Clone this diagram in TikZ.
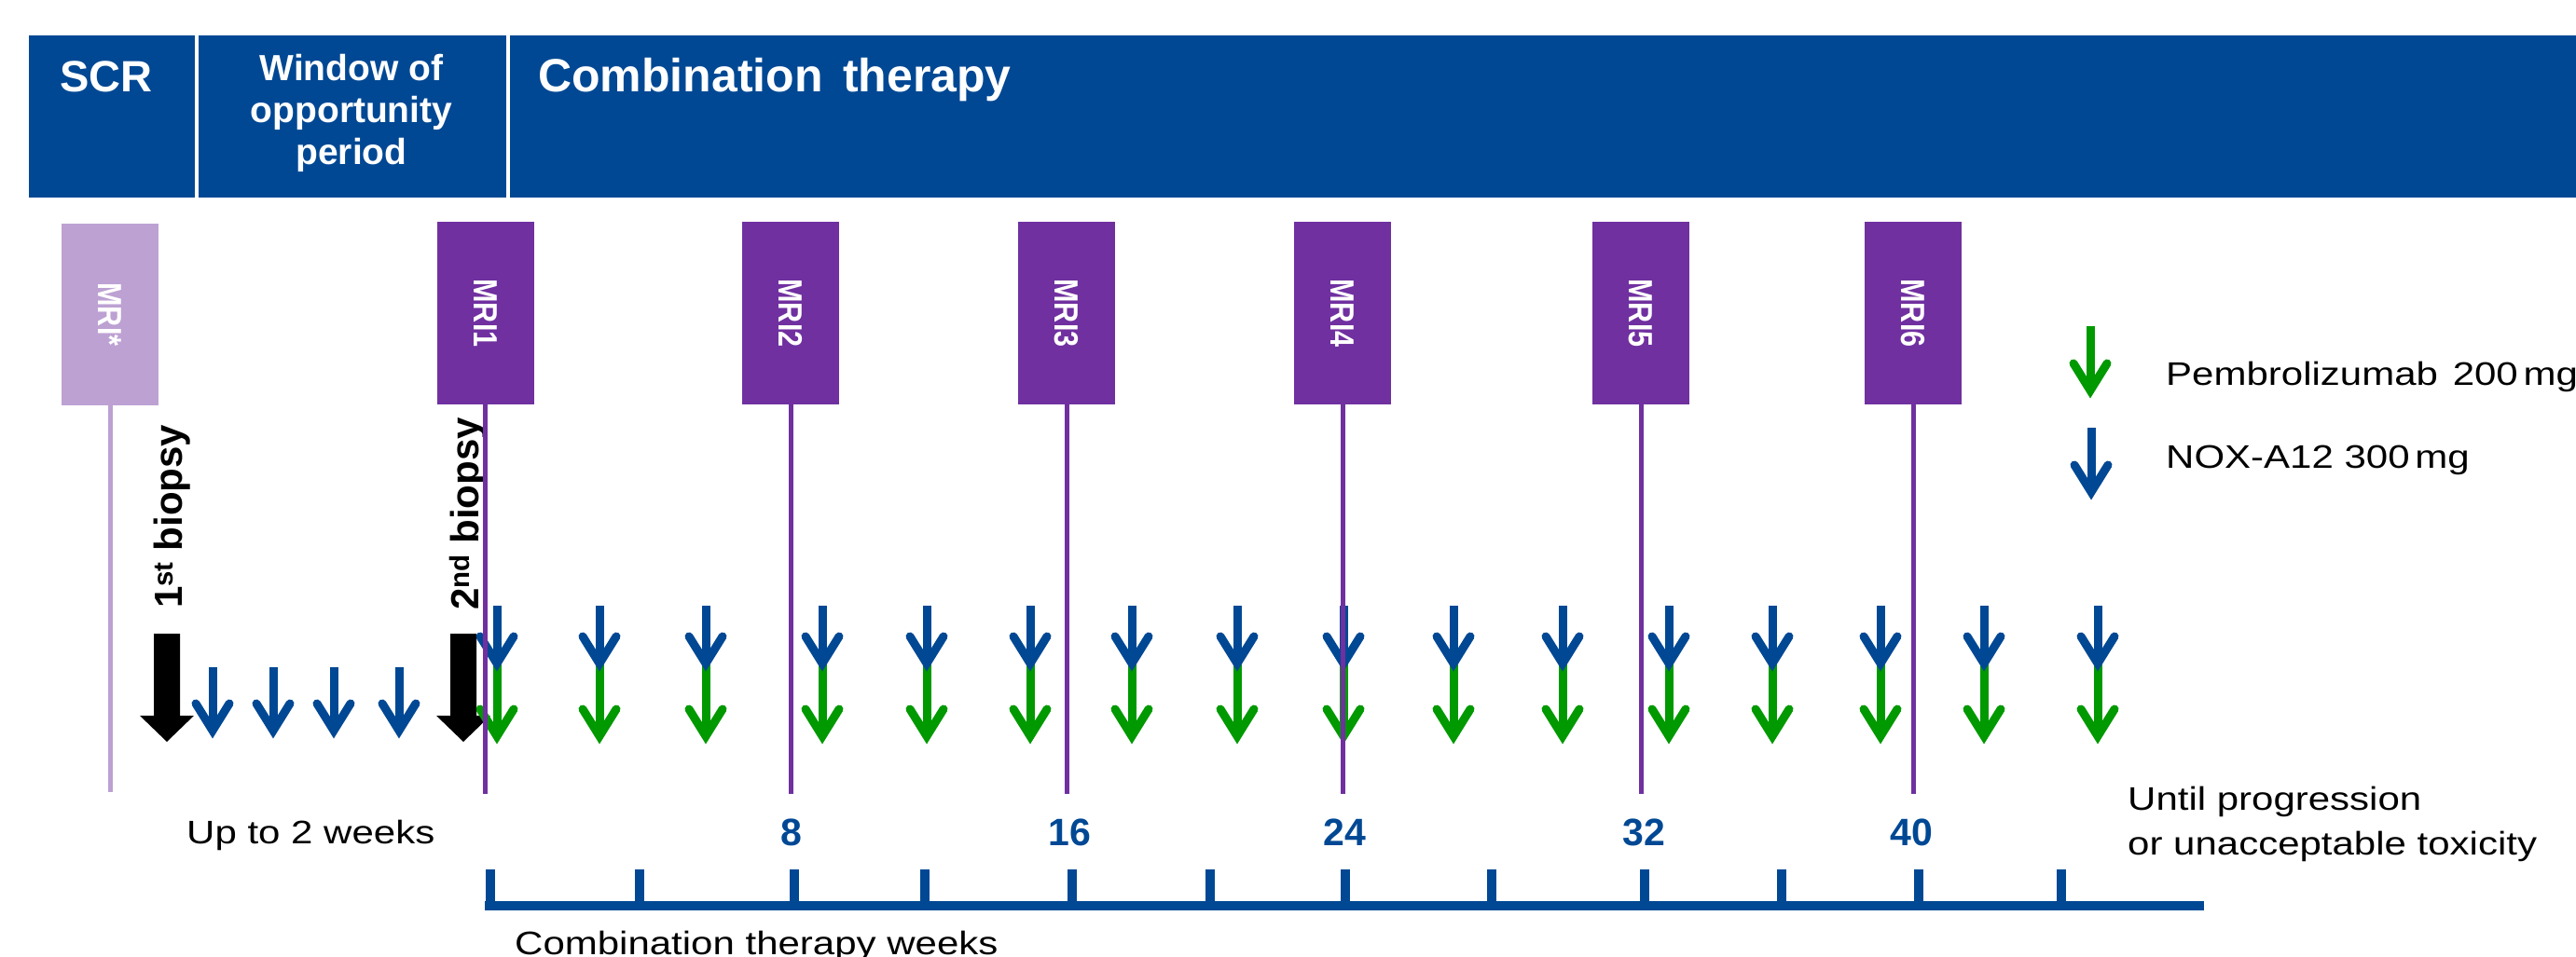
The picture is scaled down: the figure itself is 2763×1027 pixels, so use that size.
\documentclass[tikz,border=0pt]{standalone}
\usepackage{fontspec}
\setmainfont{Liberation Sans}
\newfontfamily\lowfont[FakeStretch=1.2]{Liberation Sans}
\newfontfamily\mrifont[FakeStretch=0.85]{Liberation Sans}
\definecolor{hdrblue}{RGB}{0,72,148}
\definecolor{mripurple}{RGB}{112,48,160}
\definecolor{mrilight}{RGB}{189,161,211}
\definecolor{dosegreen}{RGB}{0,153,0}
\definecolor{doseblue}{RGB}{0,72,148}
\newcommand\doseArrow[4]{%
  \draw[#4, line width=9pt, line cap=butt] (#1,#2) -- (#1,#3-10);
  \draw[#4, line width=9pt, line cap=round, line join=miter] (#1-18,#3-38) -- (#1,#3-9) -- (#1+18,#3-38);
}
\newcommand\bigArrow[1]{%
  \fill[black] (#1-14,680) -- (#1+14,680) -- (#1+14,768) -- (#1+29,768) -- (#1,796) -- (#1-29,768) -- (#1-14,768) -- cycle;
}
\tikzset{
  hdrbox/.style={fill=hdrblue, draw=none, inner sep=0pt, minimum height=174pt},
  hdrtxt/.style={text=white, inner sep=0pt},
  mribox/.style={fill=mripurple, draw=none, inner sep=0pt, minimum width=104pt, minimum height=195pt,
    text=white, font=\mrifont\bfseries\fontsize{36pt}{40pt}\selectfont},
  mrilightbox/.style={mribox, fill=mrilight},
  mriline/.style={draw=mripurple, line width=5pt},
  mrilightline/.style={draw=mrilight, line width=5pt},
  lowtext/.style={font=\lowfont\fontsize{35pt}{48pt}\selectfont, text=black, inner sep=0pt},
  wknum/.style={font=\bfseries\fontsize{41pt}{48pt}\selectfont, text=hdrblue, inner sep=0pt, anchor=base},
  biopsy/.style={font=\bfseries\fontsize{42pt}{48pt}\selectfont, rotate=90, anchor=base west, inner sep=0pt},
  axisbar/.style={draw=hdrblue, line width=10pt},
  axistick/.style={draw=hdrblue, line width=10pt}
}
\begin{document}
\begin{tikzpicture}[x=1pt,y=-1pt]
\useasboundingbox (0,0) rectangle (2763,1027);
\fill[white] (0,0) rectangle (2763,1027);

% header
\node[hdrbox, minimum width=178pt] (scr) at (120,125) {};
\node[hdrbox, minimum width=330pt] (win) at (378,125) {};
\node[hdrbox, minimum width=2216pt] (comb) at (1655,125) {};
\node[hdrtxt, font=\bfseries\fontsize{47pt}{56pt}\selectfont, anchor=base] (scrt) at (114,99) {SCR};
\node[hdrtxt, font=\bfseries\fontsize{39pt}{45pt}\selectfont, align=center, anchor=base] (wint) at (377,177) {Window of\\opportunity\\period};
\node[hdrtxt, font=\bfseries\fontsize{50pt}{56pt}\selectfont, anchor=base west] (combt) at (577,99) {Combination\hspace{0.15em} therapy};

% MRI boxes
\node[mrilightbox] (m0) at (118,337.5) {\rotatebox{-90}{MRI*}};
\node[mribox] (m1) at (520.5,336) {\rotatebox{-90}{MRI1}};
\node[mribox] (m2) at (848,336) {\rotatebox{-90}{MRI2}};
\node[mribox] (m3) at (1144,336) {\rotatebox{-90}{MRI3}};
\node[mribox] (m4) at (1440,336) {\rotatebox{-90}{MRI4}};
\node[mribox] (m5) at (1760,336) {\rotatebox{-90}{MRI5}};
\node[mribox] (m6) at (2052,336) {\rotatebox{-90}{MRI6}};
\coordinate (lbot) at (0,852);

% biopsy arrows
\bigArrow{179}
\bigArrow{497}

% window-period NOX-A12 arrows
\foreach \x in {228,293,358,428} {\doseArrow{\x}{716}{793}{doseblue}}

% combination arrows
\foreach \x in {533,643,757,882,994,1105,1214,1327,1441,1559,1676,1790,1901,2017,2128,2250} {
  \doseArrow{\x}{712}{799}{dosegreen}
  \doseArrow{\x}{650}{721}{doseblue}
}

% legend
\doseArrow{2242}{350}{428}{dosegreen}
\doseArrow{2243}{459}{537}{doseblue}
\node[lowtext, anchor=base west] (pem) at (2323,413) {Pembrolizumab\hspace{0.12em} 200\,mg};
\node[lowtext, anchor=base west] (nox) at (2323,502) {NOX-A12 300\,mg};

% biopsy labels
\node[biopsy] (b1) at (195,653) {1\textsuperscript{st} biopsy};
\node[biopsy] (b2) at (513,655) {2\textsuperscript{nd} biopsy};

% MRI lines
\draw[mrilightline] (m0.south) -- (m0.south |- 0,850);
\foreach \m in {m1,m2,m3,m4,m5,m6} {\draw[mriline] (\m.south) -- (\m.south |- lbot);}

% texts below
\node[lowtext, anchor=base west] (upto) at (200,905) {Up to 2 weeks};
\node[lowtext, anchor=base west, align=left] (until) at (2282,917) {Until progression\\or unacceptable toxicity};
\node[lowtext, anchor=base west] (ctw) at (552,1024) {Combination therapy weeks};

% week numbers
\node[wknum] (w8) at (849,907) {8};
\node[wknum] (w16) at (1147,907) {16};
\node[wknum] (w24) at (1442,907) {24};
\node[wknum] (w32) at (1763,907) {32};
\node[wknum] (w40) at (2050,907) {40};

% axis
\draw[axisbar] (520,972) -- (2364,972);
\foreach \x in {525.5,686,852,992,1150,1298,1443,1600,1764,1911,2058,2211} {\draw[axistick] (\x,933) -- (\x,972);}
\end{tikzpicture}
\end{document}
